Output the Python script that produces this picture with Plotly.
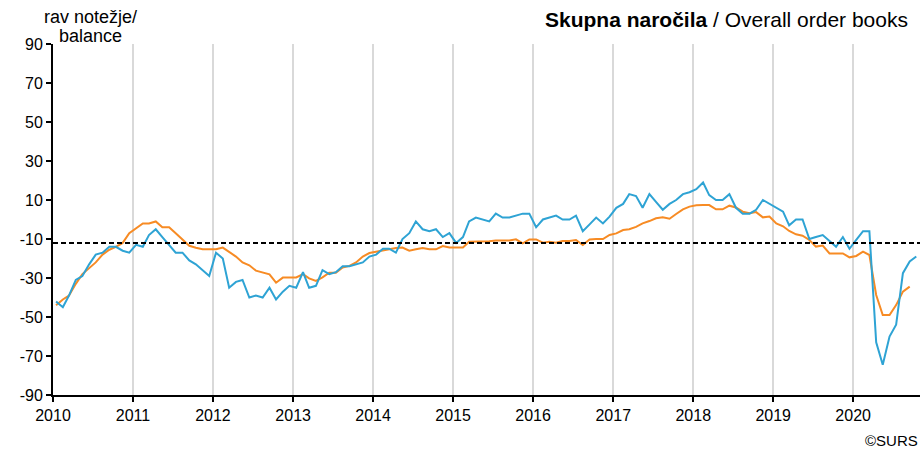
import pandas as pd
import plotly.graph_objects as go

# monthly survey balances, Jan 2010 - Oct 2020
months = pd.date_range("2010-01-01", periods=130, freq="MS") + pd.Timedelta(days=14)

monthly = [
    -42, -45, -39, -31, -29, -23, -18, -17, -14, -14, -16, -17,   # 2010
    -13, -14, -8, -5, -9, -13, -17, -17, -21, -23, -26, -29,      # 2011
    -17, -20, -35, -32, -31, -40, -39, -40, -35, -41, -37, -34,   # 2012
    -35, -27, -35, -34, -26, -28, -27, -24, -24, -23, -22, -19,   # 2013
    -18, -15, -15, -17, -10, -7, -1, -5, -6, -5, -9, -7,          # 2014
    -12, -9, -1, 1, 0, -1, 3, 1, 1, 2, 3, 3,                      # 2015
    -4, 0, 1, 2, 0, 0, 2, -6, -2.5, 1, -2, 1.5,                   # 2016
    6, 8, 13, 12, 6, 13, 9, 5, 8, 10, 13, 14,                     # 2017
    15.5, 19, 12.5, 10, 10, 13, 6, 3, 3, 5, 10, 8,                # 2018
    6, 4, -3, 0, 0, -10, -9, -8, -11, -14, -9, -15,               # 2019
    -10.5, -6, -6, -63, -74.5, -60, -54, -27.5, -21.5, -19,       # 2020
]

smoothed = [
    -44, -41, -39, -33, -28, -25, -22, -18, -15.5, -14, -12, -7,          # 2010
    -4.5, -2, -2, -1, -4, -4, -7, -10.5, -13.5, -14.5, -15.3, -15.3,      # 2011
    -15.3, -14.4, -16.8, -19, -22, -23.5, -26.2, -27.3, -28.1, -32.4, -29.8, -29.8,  # 2012
    -29.7, -28, -30.2, -31.5, -29.7, -27.3, -27.3, -24.6, -23.8, -22, -19, -17.2,    # 2013
    -16.5, -15.6, -15.1, -14.6, -14.4, -16, -15.3, -14.6, -15.3, -15.3, -13.6, -14.3,  # 2014
    -14.3, -14.3, -11.4, -11.4, -11.4, -11.2, -10.8, -10.8, -10.8, -10.2, -12.2, -10.2,  # 2015
    -10.2, -11.9, -11.4, -11.9, -11, -11, -10.5, -13.1, -10.2, -10, -10, -7.9,  # 2016
    -7.1, -5.4, -5, -3.8, -2, -0.8, 0.6, 1.1, 0.4, 2.8, 5.2, 6.6,          # 2017
    7.3, 7.4, 7.4, 5.2, 5.2, 7.1, 6.2, 4, 3.2, 3.8, 1.1, 1.5,              # 2018
    -2, -3.5, -5.9, -7.6, -8.3, -10.5, -13.9, -13.4, -17.4, -17.4, -17.4, -19.4,  # 2019
    -18.7, -16.5, -18.2, -38.7, -49, -49, -43.9, -37, -34.4,               # 2020
]

long_term_avg = -12

y_ticks = [90, 70, 50, 30, 10, -10, -30, -50, -70, -90]
y_tick_labels = ["90", "70", "50", "30", "10", "-10", "-30", "-50", "-70", "-90"]

BLUE = "#2ea3d4"
ORANGE = "#f78b24"
FONT = "Liberation Sans, Arial, sans-serif"

fig = go.Figure()
fig.add_trace(go.Scatter(x=months[: len(smoothed)], y=smoothed, mode="lines",
                         line=dict(color=ORANGE, width=2), showlegend=False))
fig.add_trace(go.Scatter(x=months, y=monthly, mode="lines",
                         line=dict(color=BLUE, width=2), showlegend=False))

# long-term average
fig.add_shape(type="line", xref="paper", yref="y", x0=0, x1=1,
              y0=long_term_avg, y1=long_term_avg,
              line=dict(color="black", width=2, dash="5px,3px"))

fig.update_layout(
    width=921,
    height=456,
    margin=dict(l=53, r=1, t=44, b=61),
    plot_bgcolor="white",
    paper_bgcolor="white",
    font=dict(family=FONT, size=16, color="black"),
    xaxis=dict(
        type="date",
        range=["2010-01-01", "2020-11-01"],
        tick0="2010-01-01",
        dtick="M12",
        tickformat="%Y",
        showgrid=True,
        gridcolor="#d9d9d9",
        gridwidth=2,
        showline=True,
        linecolor="black",
        linewidth=2,
        ticks="outside",
        ticklen=5,
        tickcolor="black",
        tickwidth=1.5,
        tickfont=dict(size=16),
        zeroline=False,
    ),
    yaxis=dict(
        range=[-90, 90],
        tickmode="array",
        tickvals=y_ticks,
        ticktext=y_tick_labels,
        showgrid=False,
        showline=True,
        linecolor="black",
        linewidth=2,
        ticks="outside",
        ticklen=5,
        tickcolor="black",
        tickwidth=1.5,
        tickfont=dict(size=16),
        zeroline=False,
    ),
    annotations=[
        dict(text="<b>Skupna naročila</b> / Overall order books", xref="paper", yref="paper",
             x=1, y=1, xshift=-10, yshift=25, xanchor="right", yanchor="middle",
             showarrow=False, font=dict(size=21)),
        dict(text="rav notežje/", xref="paper", yref="paper",
             x=0, y=1, xshift=37, yshift=27, xanchor="center", yanchor="middle",
             showarrow=False, font=dict(size=18)),
        dict(text="balance", xref="paper", yref="paper",
             x=0, y=1, xshift=37, yshift=8, xanchor="center", yanchor="middle",
             showarrow=False, font=dict(size=18)),
        dict(text="©SURS", xref="paper", yref="paper",
             x=1, y=0, xshift=0, yshift=-45, xanchor="right", yanchor="middle",
             showarrow=False, font=dict(size=15)),
    ],
)

fig.write_html("out.html", config={"displayModeBar": False},
               post_script="document.body.style.margin='0';")
